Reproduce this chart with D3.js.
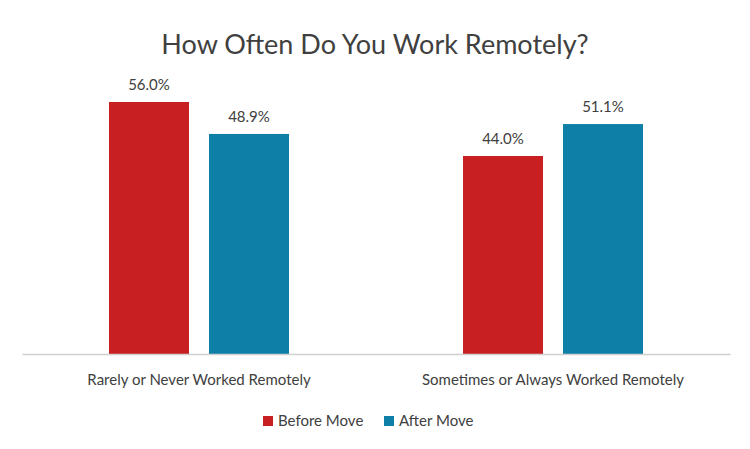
<!DOCTYPE html>
<html>
<head>
<meta charset="utf-8">
<script src="https://cdn.jsdelivr.net/npm/d3@7"></script>
<style>
  body { margin: 0; background: #fff; }
  text { font-family: Lato, "Open Sans", sans-serif; fill: #404040; }
</style>
</head>
<body>
<div id="chart"></div>
<script>
// Data
const categories = ["Rarely or Never Worked Remotely", "Sometimes or Always Worked Remotely"];
const series = ["Before Move", "After Move"];
const beforeMove = [56.0, 44.0];
const afterMove = [48.9, 51.1];
const colors = ["#c82022", "#0e7fa6"];

const width = 750, height = 449;
const baseline = 354;

const svg = d3.select("#chart").append("svg")
    .attr("width", width)
    .attr("height", height);

// Scales
const x0 = d3.scaleBand().domain(categories).range([22, 730]).padding(0);
const x1 = d3.scaleBand().domain(series).range([x0.bandwidth() / 2 - 90, x0.bandwidth() / 2 + 90]).paddingInner(0.2).paddingOuter(0);
const y = d3.scaleLinear().domain([0, 56]).range([baseline, 102]);
const color = d3.scaleOrdinal().domain(series).range(colors);

// Title
svg.append("text")
    .attr("x", width / 2).attr("y", 54)
    .attr("text-anchor", "middle")
    .style("font-size", "27px")
    .text("How Often Do You Work Remotely?");

const rows = categories.map((c, i) => ({
    cat: c,
    vals: [{ s: series[0], v: beforeMove[i] }, { s: series[1], v: afterMove[i] }]
}));

const groups = svg.selectAll(".grp").data(rows).enter().append("g")
    .attr("transform", d => `translate(${x0(d.cat)},0)`);

groups.selectAll("rect").data(d => d.vals).enter().append("rect")
    .attr("x", d => x1(d.s))
    .attr("y", d => y(d.v))
    .attr("width", x1.bandwidth())
    .attr("height", d => baseline - y(d.v))
    .attr("fill", d => color(d.s));

groups.selectAll(".lbl").data(d => d.vals).enter().append("text")
    .attr("x", d => x1(d.s) + x1.bandwidth() / 2)
    .attr("y", d => y(d.v) - 12)
    .attr("text-anchor", "middle")
    .style("font-size", "15px")
    .text(d => d.v.toFixed(1) + "%");

// Axis
const xAxis = svg.append("g")
    .attr("transform", `translate(0,${baseline})`)
    .call(d3.axisBottom(x0).tickSize(0).tickPadding(20));
xAxis.select(".domain").attr("stroke", "#d0d0d0").attr("stroke-width", 1.5);
xAxis.selectAll("text").style("font-size", "15px").style("font-family", "Lato, 'Open Sans', sans-serif").attr("fill", "#404040");

// Legend
const legendX = [263, 384];
series.forEach((s, i) => {
    svg.append("rect")
        .attr("x", legendX[i]).attr("y", 416)
        .attr("width", 10).attr("height", 10)
        .attr("fill", color(s));
    svg.append("text")
        .attr("x", legendX[i] + 15).attr("y", 426)
        .style("font-size", "15px")
        .text(s);
});
</script>
</body>
</html>
